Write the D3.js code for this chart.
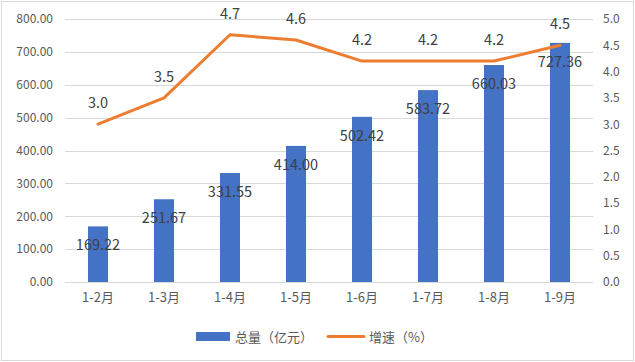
<!DOCTYPE html>
<html><head><meta charset="utf-8">
<script src="https://cdn.jsdelivr.net/npm/d3@7"></script>
<style>body{margin:0;background:#fff}svg{display:block}</style>
</head><body>
<script>
const categories = ["1-2月","1-3月","1-4月","1-5月","1-6月","1-7月","1-8月","1-9月"];
const totals = [169.22, 251.67, 331.55, 414.00, 502.42, 583.72, 660.03, 727.36];
const growth = [3.0, 3.5, 4.7, 4.6, 4.2, 4.2, 4.2, 4.5];
const leftTicks = [0,100,200,300,400,500,600,700,800];
const rightTicks = [0,0.5,1,1.5,2,2.5,3,3.5,4,4.5,5];
const seriesNames = ["总量（亿元）","增速（%）"];

(function(){
const W=635,H=362;
const font = "'Noto Sans CJK SC','Noto Sans',sans-serif";
const svg = d3.select("body").append("svg").attr("width",W).attr("height",H);
svg.append("rect").attr("x",1.5).attr("y",1.5).attr("width",W-3).attr("height",H-3)
  .attr("fill","#fff").attr("stroke","#d9d9d9").attr("stroke-width",1);

const pL=65,pR=593,pT=19,pB=282;
const x = d3.scaleBand().domain(categories).range([pL,pR]).padding(0);
const yL = d3.scaleLinear().domain([0,800]).range([pB,pT]);
const yR = d3.scaleLinear().domain([0,5]).range([pB,pT]);

svg.append("g").selectAll("line").data(leftTicks).join("line")
  .attr("x1",pL).attr("x2",pR).attr("y1",d=>Math.round(yL(d))+0.5).attr("y2",d=>Math.round(yL(d))+0.5)
  .attr("stroke","#d9d9d9").attr("stroke-width",1);

const gl = svg.append("g").attr("transform",`translate(${pL-12},0)`)
  .call(d3.axisLeft(yL).tickValues(leftTicks).tickFormat(d3.format(".2f")).tickSize(0).tickPadding(0));
gl.select(".domain").remove();
gl.selectAll("text").attr("font-family",font).attr("font-size",12).attr("fill","#595959");

const gr = svg.append("g").attr("transform",`translate(${pR+10},0)`)
  .call(d3.axisRight(yR).tickValues(rightTicks).tickFormat(d3.format(".1f")).tickSize(0).tickPadding(0));
gr.select(".domain").remove();
gr.selectAll("text").attr("font-family",font).attr("font-size",12).attr("fill","#595959");

const gb = svg.append("g").attr("transform",`translate(0,${pB})`)
  .call(d3.axisBottom(x).tickSize(0).tickPadding(11));
gb.select(".domain").remove();
gb.selectAll("text").attr("font-family",font).attr("font-size",13).attr("fill","#595959");

const bw=20;
svg.append("g").selectAll("rect").data(totals).join("rect")
  .attr("x",(d,i)=>x(categories[i])+x.bandwidth()/2-bw/2)
  .attr("y",d=>yL(d)).attr("width",bw).attr("height",d=>pB-yL(d))
  .attr("fill","#4472C4");

const line = d3.line().x((d,i)=>x(categories[i])+x.bandwidth()/2).y(d=>yR(d));
svg.append("path").datum(growth).attr("d",line).attr("fill","none")
  .attr("stroke","#ED7D31").attr("stroke-width",3).attr("stroke-linejoin","round").attr("stroke-linecap","round");

svg.append("g").selectAll("text").data(totals).join("text")
  .attr("x",(d,i)=>x(categories[i])+x.bandwidth()/2)
  .attr("y",d=>yL(d)+19).attr("dy","0.35em").attr("text-anchor","middle")
  .attr("font-family",font).attr("font-size",14.5).attr("fill","#404040")
  .text(d=>d.toFixed(2));

svg.append("g").selectAll("text").data(growth).join("text")
  .attr("x",(d,i)=>x(categories[i])+x.bandwidth()/2)
  .attr("y",d=>yR(d)-21).attr("dy","0.35em").attr("text-anchor","middle")
  .attr("font-family",font).attr("font-size",14.5).attr("fill","#404040")
  .text(d=>d.toFixed(1));

const lg = svg.append("g");
lg.append("rect").attr("x",196).attr("y",332).attr("width",34).attr("height",9).attr("fill","#4472C4");
lg.append("text").attr("x",235).attr("y",337).attr("dy","0.35em").attr("font-family",font).attr("font-size",13).attr("fill","#595959").text(seriesNames[0]);
lg.append("line").attr("x1",328).attr("x2",364).attr("y1",336.5).attr("y2",336.5).attr("stroke","#ED7D31").attr("stroke-width",3).attr("stroke-linecap","round");
lg.append("text").attr("x",369).attr("y",337).attr("dy","0.35em").attr("font-family",font).attr("font-size",13).attr("fill","#595959").text(seriesNames[1]);
})();
</script>
</body></html>
